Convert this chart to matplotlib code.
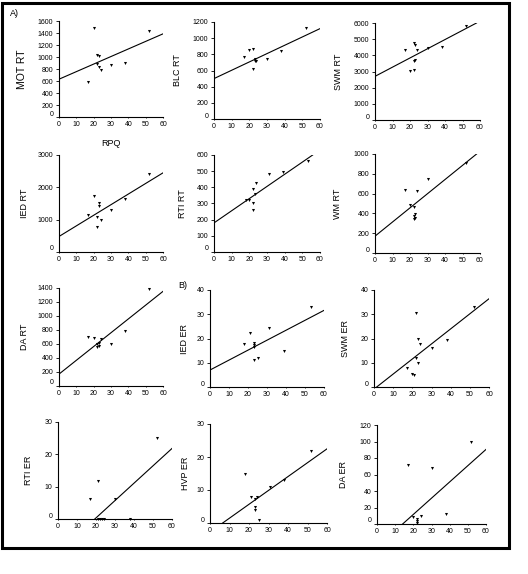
import matplotlib
matplotlib.use("Agg")
import matplotlib.pyplot as plt
import matplotlib.transforms as mtransforms
from matplotlib.patches import Rectangle

plt.rcParams['font.family'] = ['Liberation Sans', 'DejaVu Sans']

# RPQ score (x) and task measure (y) for each panel
rpq_mot = [17, 20, 22, 22, 23, 23, 24, 30, 38, 52]
mot_rt = [580, 1480, 1040, 880, 1020, 840, 790, 870, 900, 1440]

rpq_blc = [17, 20, 22, 22, 23, 23, 24, 30, 38, 52]
blc_rt = [770, 850, 860, 620, 720, 740, 720, 740, 840, 1120]

rpq_swm = [17, 20, 22, 22, 22, 23, 23, 24, 30, 38, 52]
swm_rt = [4300, 3050, 4750, 3100, 3650, 4650, 3700, 4350, 4450, 4500, 5800]

rpq_ied = [17, 20, 22, 22, 23, 23, 24, 30, 38, 52]
ied_rt = [1150, 1720, 1080, 780, 1530, 1420, 1000, 1290, 1630, 2400]

rpq_rti = [18, 20, 22, 22, 22, 23, 24, 31, 39, 53]
rti_rt = [320, 320, 390, 260, 300, 360, 425, 485, 495, 560]

rpq_wm = [17, 20, 22, 22, 22, 23, 23, 24, 30, 52]
wm_rt = [640, 480, 460, 370, 340, 390, 350, 630, 750, 910]

rpq_da = [17, 20, 22, 22, 23, 23, 24, 30, 38, 52]
da_rt = [700, 680, 600, 560, 610, 570, 670, 600, 790, 1380]

rpq_ied_er = [18, 21, 23, 23, 23, 23, 25, 31, 39, 53]
ied_er = [17.6, 22.1, 11.2, 17.3, 18.3, 16.6, 12.1, 24.4, 15, 33]

rpq_swm_er = [17, 20, 21, 22, 22, 23, 23, 24, 30, 38, 52]
swm_er = [7.8, 5.3, 5.0, 30.6, 12.1, 9.8, 19.6, 17.6, 16.2, 19.4, 33]

rpq_rti_er = [17, 21, 21, 22, 23, 24, 30, 38, 52]
rti_er = [6.3, 11.9, 0, 0, 0, 0, 6.2, 0, 25.2]

rpq_hvp = [18, 21, 23, 23, 23, 24, 25, 31, 38, 52]
hvp_er = [15, 8, 3.8, 4.8, 7.4, 7.9, 1, 11, 13.1, 21.8]

rpq_da_er = [17, 20, 22, 22, 22, 24, 30, 38, 52]
da_er = [72, 8.9, 6, 3.6, 1.6, 10, 68, 12, 100]

# regression lines (intercept, slope)
fit_intercept = [630, 500, 2700, 480, 180, 170, 170, 7.0, -0.87, -10.4, -2.73, -27.8]
fit_slope = [12.6, 10.3, 56.9, 32.8, 7.52, 14.3, 19.7, 0.41, 0.621, 0.537, 0.42, 1.97]

ylabels = ["MOT RT", "BLC RT", "SWM RT", "IED RT", "RTI RT", "WM RT",
           "DA RT", "IED ER", "SWM ER", "RTI ER", "HVP ER", "DA ER"]
y_max = [1600, 1200, 6000, 3000, 600, 1000, 1400, 40, 40, 30, 30, 120]
y_step = [200, 200, 1000, 1000, 100, 200, 200, 10, 10, 10, 10, 20]
x_data = [rpq_mot, rpq_blc, rpq_swm, rpq_ied, rpq_rti, rpq_wm,
          rpq_da, rpq_ied_er, rpq_swm_er, rpq_rti_er, rpq_hvp, rpq_da_er]
y_data = [mot_rt, blc_rt, swm_rt, ied_rt, rti_rt, wm_rt,
          da_rt, ied_er, swm_er, rti_er, hvp_er, da_er]

# axes boxes in pixels: left, right, top, bottom ; and y label x position
W, H = 528, 574
boxes = [
    (59, 163, 21, 117), (214, 320, 22, 119), (375, 480, 23, 120),
    (59, 163, 155, 252), (214, 320, 155, 252), (375, 480, 154, 253),
    (59, 163, 288, 386), (210, 324, 290, 387), (374, 489, 290, 387),
    (58, 172, 422, 519), (210, 327, 424, 523), (377, 486, 425, 524),
]
label_x = [27, 182, 343, 29, 187, 342, 29, 189, 350, 33, 190, 348]

fig = plt.figure(figsize=(W / 100, H / 100), dpi=100)
up = mtransforms.ScaledTranslation(0, 4 / 100, fig.dpi_scale_trans)

for i in range(12):
    l, r, t, b = boxes[i]
    ax = fig.add_axes([l / W, 1 - b / H, (r - l) / W, (b - t) / H])
    ax.plot(x_data[i], y_data[i], 'v', color='black', ms=2.2, mew=0, clip_on=False)

    # regression line, kept inside the plotting range
    a, m = fit_intercept[i], fit_slope[i]
    x0 = max(0, -a / m) if m > 0 else 0
    x1 = min(60, (y_max[i] - a) / m)
    ax.plot([x0, x1], [a + m * x0, a + m * x1], color='black', lw=0.8)

    ax.set_xlim(0, 60)
    ax.set_ylim(0, y_max[i])
    ax.set_xticks(range(0, 61, 10))
    yt = list(range(0, y_max[i] + 1, y_step[i]))
    ax.set_yticks(yt, labels=[str(v) for v in yt])
    for s in ['top', 'right']:
        ax.spines[s].set_visible(False)
    for s in ['left', 'bottom']:
        ax.spines[s].set_linewidth(0.8)
    ax.tick_params(axis='both', labelsize=5, width=0.6, pad=2)
    ax.tick_params(axis='y', length=2)
    ax.tick_params(axis='x', length=1)
    lbl0 = ax.yaxis.get_major_ticks()[0].label1
    lbl0.set_transform(lbl0.get_transform() + up)

    fs = 7.5 if i == 0 else 6.5
    ax.set_ylabel(ylabels[i], fontsize=fs)
    ax.yaxis.set_label_coords(label_x[i] / W, 1 - (t + b) / 2 / H,
                              transform=fig.transFigure)

fig.text(111 / W, 1 - 144 / H, "RPQ", fontsize=6.5, ha='center', va='center')
fig.text(10 / W, 1 - 14 / H, "A)", fontsize=6.5, ha='left', va='center')
fig.text(178 / W, 1 - 285 / H, "B)", fontsize=6.5, ha='left', va='center')

fig.patches.append(Rectangle((2 / W, 1 - 548 / H), 507 / W, 545 / H,
                             transform=fig.transFigure, fill=False,
                             edgecolor='black', lw=2.2))

fig.savefig("out.png", dpi=100)
